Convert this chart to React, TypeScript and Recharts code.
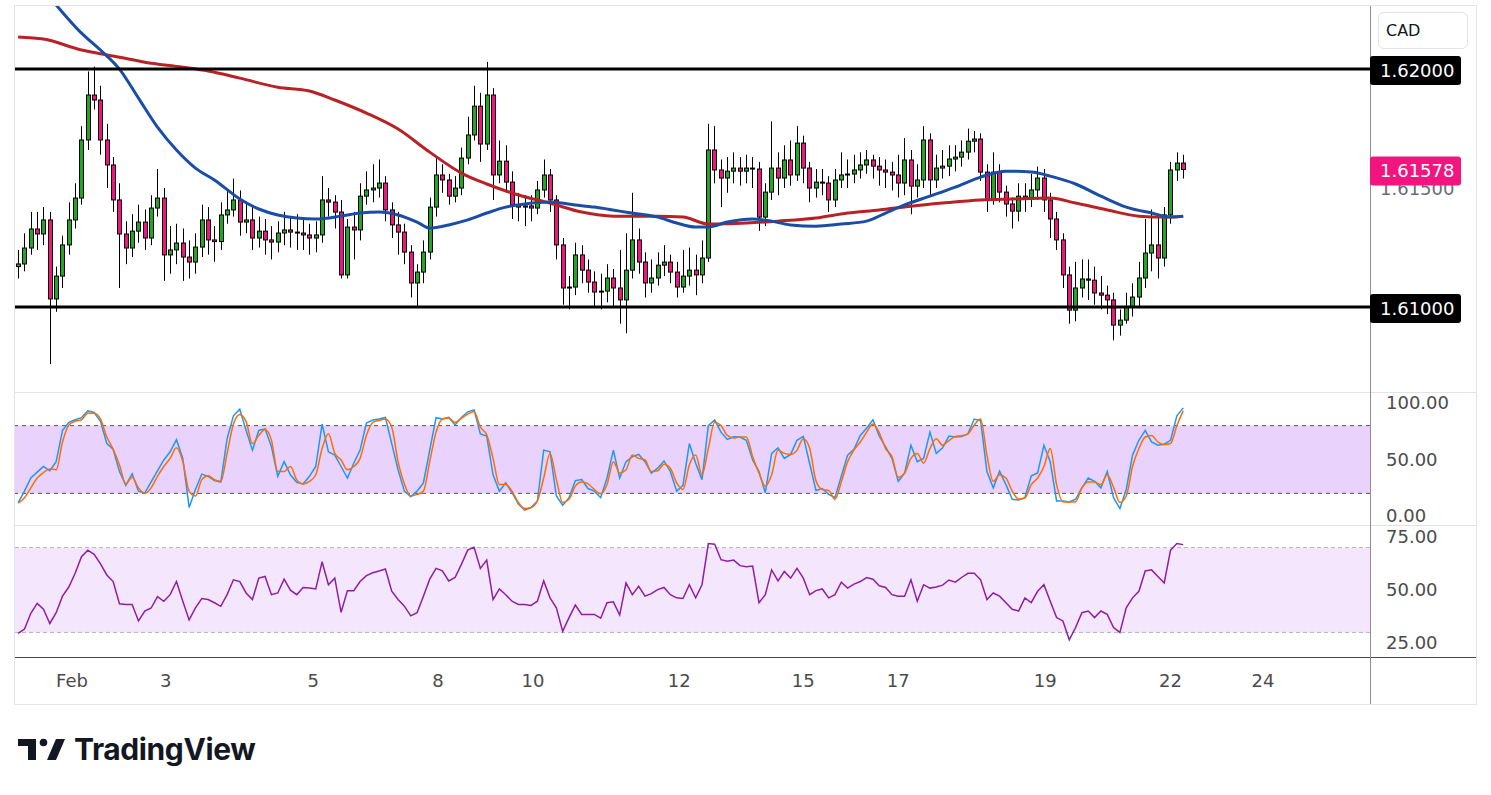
import {
  Bar,
  ComposedChart,
  Line,
  ReferenceArea,
  ReferenceLine,
  XAxis,
  YAxis,
} from "recharts";

// CAD pair, 2-hour candles, Feb 1 - Feb 22
const firstOpen = 1.6117;

const closes = [
  1.61181, 1.61248, 1.61328, 1.61307, 1.61366, 1.61034, 1.6113, 1.61261, 1.61366, 1.61458,
  1.61702, 1.61891, 1.6187, 1.61702, 1.61597, 1.6145, 1.61307, 1.61248, 1.61319, 1.61357,
  1.6129, 1.61416, 1.61458, 1.61219, 1.6124, 1.61269, 1.6121, 1.61189, 1.61252, 1.61366,
  1.61282, 1.61275, 1.61387, 1.61408, 1.6145, 1.61357, 1.61366, 1.6129, 1.61319, 1.61282,
  1.61273, 1.61311, 1.61324, 1.61315, 1.61311, 1.61303, 1.6129, 1.61303, 1.6145, 1.61441,
  1.61399, 1.61135, 1.61336, 1.61324, 1.61466, 1.61492, 1.615, 1.61521, 1.61408, 1.61345,
  1.61315, 1.61231, 1.61101, 1.61147, 1.61231, 1.6142, 1.61555, 1.61534, 1.61466, 1.615,
  1.61626, 1.61723, 1.61844, 1.61685, 1.61891, 1.61555, 1.61613, 1.61525, 1.61429, 1.6142,
  1.61425, 1.61416, 1.61492, 1.61555, 1.6145, 1.61261, 1.6108, 1.61084, 1.61219, 1.61155,
  1.61105, 1.61063, 1.61067, 1.61122, 1.6108, 1.6103, 1.61155, 1.61282, 1.61189, 1.61101,
  1.61122, 1.61176, 1.61189, 1.61147, 1.61084, 1.6113, 1.61155, 1.61135, 1.61206, 1.6166,
  1.61576, 1.61542, 1.61571, 1.61584, 1.61571, 1.61584, 1.6158, 1.61378, 1.61483, 1.61584,
  1.61542, 1.61618, 1.61555, 1.61689, 1.61584, 1.615, 1.61525, 1.61521, 1.6145, 1.61534,
  1.61555, 1.61559, 1.61576, 1.61597, 1.61618, 1.61592, 1.61576, 1.61567, 1.61555, 1.61521,
  1.61618, 1.61508, 1.61534, 1.61702, 1.61534, 1.61584, 1.61592, 1.61622, 1.6163, 1.61651,
  1.61697, 1.61706, 1.61567, 1.6145, 1.61567, 1.61483, 1.61433, 1.61403, 1.61466, 1.61458,
  1.61492, 1.61542, 1.6145, 1.6137, 1.61282, 1.61135, 1.60987, 1.6108, 1.61118, 1.61113,
  1.61059, 1.6105, 1.6103, 1.60924, 1.60945, 1.61, 1.61042, 1.61122, 1.61227, 1.61261,
  1.61206, 1.61387, 1.61576, 1.61605, 1.61578,
];

const highs = [
  1.6124, 1.6131, 1.614, 1.614, 1.6142, 1.614, 1.6117, 1.613, 1.6144, 1.6152,
  1.6176, 1.6199, 1.6201, 1.6193, 1.6177, 1.6163, 1.6152, 1.6136, 1.6139, 1.6143,
  1.6141, 1.6147, 1.6158, 1.615, 1.6134, 1.6135, 1.6133, 1.6128, 1.6131, 1.6143,
  1.6142, 1.6134, 1.6144, 1.6149, 1.6154, 1.6149, 1.6144, 1.6142, 1.6138, 1.6137,
  1.6134, 1.6136, 1.614, 1.6138, 1.6139, 1.6137, 1.6135, 1.6136, 1.6155, 1.615,
  1.6147, 1.6145, 1.6137, 1.614, 1.6152, 1.6157, 1.616, 1.6162, 1.6155, 1.6144,
  1.614, 1.6135, 1.6126, 1.6118, 1.6128, 1.6146, 1.6163, 1.616, 1.6156, 1.6155,
  1.6167, 1.618, 1.6193, 1.619, 1.6203, 1.6192, 1.617, 1.6168, 1.6157, 1.6148,
  1.6147, 1.6147, 1.6153, 1.6162, 1.6158, 1.6147, 1.6129, 1.6113, 1.6127, 1.6126,
  1.612, 1.6115, 1.6114, 1.6118, 1.6116, 1.6124, 1.6131, 1.6148, 1.6133, 1.6123,
  1.612, 1.6123, 1.6126, 1.6122, 1.6119, 1.6124, 1.6125, 1.6122, 1.6128, 1.6177,
  1.6176, 1.6162, 1.6163, 1.6165, 1.6163, 1.6164, 1.6163, 1.6161, 1.6152, 1.6178,
  1.6165, 1.6168, 1.617, 1.6176, 1.6172, 1.6161, 1.6158, 1.6158, 1.6155, 1.6158,
  1.6165, 1.6162, 1.6164, 1.6165, 1.6166, 1.6164, 1.6163, 1.6162, 1.6161, 1.6164,
  1.6171, 1.6166, 1.616, 1.6176, 1.6173, 1.6164, 1.6166, 1.6168, 1.6168, 1.617,
  1.6175, 1.6174, 1.6173, 1.616, 1.6165, 1.616, 1.6151, 1.6146, 1.6152, 1.6152,
  1.6156, 1.6159, 1.6158, 1.6148, 1.614, 1.6131, 1.6117, 1.6119, 1.612, 1.612,
  1.6117, 1.6113, 1.6109, 1.6106, 1.6099, 1.6106, 1.611, 1.6119, 1.6137, 1.6141,
  1.6139, 1.6142, 1.6161, 1.6165, 1.6164,
];

const lows = [
  1.6112, 1.6115, 1.6122, 1.6124, 1.6126, 1.6076, 1.6098, 1.6108, 1.6122, 1.6133,
  1.6143, 1.6166, 1.6183, 1.6164, 1.615, 1.614, 1.6108, 1.6118, 1.6121, 1.6127,
  1.6124, 1.6126, 1.6138, 1.6111, 1.6114, 1.6118, 1.6111, 1.6112, 1.6114, 1.6121,
  1.6122, 1.6119, 1.6124, 1.6135, 1.6138, 1.613, 1.6131, 1.6124, 1.6125, 1.6122,
  1.612, 1.6123, 1.6126, 1.6125, 1.6124, 1.6124, 1.6122, 1.6123, 1.6127, 1.6138,
  1.6133, 1.6112, 1.6112, 1.612, 1.6128, 1.6143, 1.6144, 1.6146, 1.6136, 1.6129,
  1.6122, 1.6118, 1.6104, 1.61, 1.611, 1.612, 1.6138, 1.6148, 1.6143, 1.6144,
  1.6147, 1.616, 1.617, 1.6161, 1.6166, 1.6145, 1.6152, 1.6148, 1.6137, 1.6136,
  1.6134, 1.6136, 1.6139, 1.6146, 1.614, 1.612, 1.6101, 1.6099, 1.6105, 1.611,
  1.6106, 1.61, 1.6099, 1.6102, 1.61, 1.6093, 1.6089, 1.6112, 1.6114, 1.6104,
  1.6106, 1.6109, 1.6113, 1.611, 1.6104, 1.6106, 1.6109, 1.6105, 1.611, 1.6119,
  1.6152, 1.6142, 1.6148, 1.6152, 1.6151, 1.6152, 1.615, 1.6132, 1.6134, 1.6145,
  1.6147, 1.615, 1.6151, 1.6153, 1.6152, 1.6144, 1.6146, 1.6147, 1.614, 1.6142,
  1.615, 1.615, 1.6152, 1.6154, 1.6156, 1.6154, 1.6151, 1.615, 1.6149, 1.6146,
  1.6147, 1.6139, 1.6146, 1.615, 1.6147, 1.615, 1.6154, 1.6155, 1.6157, 1.6159,
  1.6162, 1.6165, 1.6153, 1.614, 1.6143, 1.6144, 1.6138, 1.6133, 1.6136, 1.614,
  1.6142, 1.6145, 1.614, 1.6129, 1.6124, 1.6108, 1.6093, 1.6094, 1.6104, 1.6103,
  1.6101, 1.6099, 1.6097, 1.6086, 1.6088, 1.6093, 1.6096, 1.61, 1.6108, 1.6115,
  1.6112, 1.6117, 1.6135, 1.6153, 1.6154,
];

// moving averages, read as [bar, price] points
const fastAverage = [
  [0, 1.62458], [6, 1.62269], [10, 1.62151], [13, 1.6208], [16, 1.62], [19, 1.61878],
  [22, 1.61756], [25, 1.6166], [28, 1.61584], [31, 1.61534], [35, 1.61454], [38, 1.61412],
  [41, 1.61387], [44, 1.61374], [47, 1.6137], [51, 1.61382], [54, 1.61395], [57, 1.61399],
  [60, 1.61387], [63, 1.61357], [65, 1.61332], [68, 1.61345], [71, 1.61366], [74, 1.61395],
  [77, 1.6142], [80, 1.61433], [84, 1.61441], [88, 1.61429], [91, 1.6142], [95, 1.61403],
  [98, 1.61391], [101, 1.61378], [104, 1.61353], [107, 1.61336], [109, 1.61336], [112, 1.61357],
  [116, 1.6137], [119, 1.61361], [122, 1.61345], [126, 1.6134], [130, 1.61349], [134, 1.61361],
  [137, 1.61395], [140, 1.61429], [144, 1.61466], [148, 1.61504], [152, 1.61546], [156, 1.61571],
  [160, 1.61567], [163, 1.6155], [167, 1.61517], [171, 1.61466], [175, 1.6142], [179, 1.61395],
  [182, 1.61378], [184, 1.61382],
];

const slowAverage = [
  [0, 1.62135], [4, 1.62126], [10, 1.6208], [15, 1.62055], [20, 1.62029], [26, 1.62008],
  [30, 1.61992], [35, 1.61962], [41, 1.61924], [46, 1.61908], [50, 1.6187], [55, 1.61815],
  [60, 1.61748], [65, 1.61651], [70, 1.61563], [74, 1.61517], [79, 1.61471], [84, 1.61437],
  [89, 1.61399], [94, 1.61382], [101, 1.61382], [105, 1.61378], [109, 1.61349], [115, 1.61353],
  [120, 1.61361], [126, 1.61374], [131, 1.61395], [136, 1.61408], [141, 1.61424], [146, 1.61437],
  [152, 1.6145], [157, 1.61454], [163, 1.61458], [167, 1.61437], [172, 1.61408], [177, 1.61382],
  [181, 1.61378], [184, 1.61382],
];

const stochK = [
  11.9, 22.0, 33.6, 38.8, 43.8, 40.0, 48.1, 75.7, 82.9, 85.2,
  87.0, 93.0, 91.6, 83.8, 64.1, 59.1, 39.4, 27.2, 37.4, 22.0,
  20.3, 30.1, 40.0, 49.6, 56.8, 67.5, 51.0, 7.5, 23.5, 37.1,
  35.1, 31.3, 30.1, 68.4, 88.7, 94.5, 75.7, 58.3, 75.7, 77.1,
  61.2, 35.1, 48.1, 36.5, 29.9, 28.4, 35.1, 43.8, 81.4, 56.8,
  53.9, 43.8, 33.6, 46.7, 58.3, 82.3, 84.9, 85.8, 87.2, 64.1,
  40.9, 22.0, 17.1, 22.0, 29.3, 58.3, 87.0, 85.8, 87.2, 80.6,
  87.2, 92.2, 93.9, 72.7, 70.7, 36.5, 22.0, 29.3, 20.6, 10.5,
  5.2, 7.5, 13.3, 58.3, 56.8, 17.7, 9.6, 16.2, 31.3, 32.2,
  24.3, 22.0, 16.2, 33.6, 58.3, 33.6, 48.1, 52.5, 54.5, 48.1,
  38.0, 42.3, 48.7, 39.4, 22.0, 27.2, 64.1, 46.7, 32.2, 80.0,
  84.9, 74.2, 67.8, 70.1, 69.9, 67.0, 49.6, 39.4, 20.6, 55.4,
  60.3, 51.0, 54.5, 67.0, 70.5, 46.5, 22.6, 24.3, 19.1, 16.2,
  35.1, 53.9, 59.1, 71.3, 77.7, 85.2, 70.7, 61.2, 51.0, 30.7,
  38.0, 62.6, 48.1, 51.0, 74.2, 55.4, 60.3, 70.7, 69.9, 70.4,
  72.7, 85.8, 84.3, 39.4, 24.9, 39.7, 27.8, 14.8, 14.2, 16.2,
  35.6, 38.0, 62.6, 48.1, 13.3, 13.3, 12.5, 14.8, 24.9, 33.6,
  30.7, 24.9, 39.4, 16.2, 6.6, 23.5, 53.9, 67.0, 75.7, 65.5,
  62.6, 63.5, 67.0, 88.7, 95.7,
];

const stochD = [
  11.4, 16.2, 24.9, 33.6, 38.5, 41.7, 40.9, 65.5, 80.6, 83.8,
  85.2, 91.0, 91.0, 85.8, 69.9, 59.1, 45.2, 28.4, 34.2, 24.9,
  20.0, 24.9, 35.1, 43.8, 51.0, 60.3, 48.1, 22.0, 17.7, 32.2,
  35.6, 32.2, 30.7, 55.4, 81.4, 89.9, 83.5, 64.1, 71.3, 76.5,
  67.0, 39.4, 39.4, 43.8, 32.2, 28.4, 30.7, 36.5, 59.7, 72.7,
  55.4, 49.6, 40.9, 43.8, 51.0, 71.3, 82.9, 84.6, 85.8, 78.6,
  48.1, 28.4, 17.7, 19.1, 22.0, 48.1, 74.2, 85.8, 86.7, 82.9,
  86.4, 90.1, 92.5, 78.6, 71.9, 51.0, 27.8, 27.8, 22.0, 11.9,
  6.6, 7.5, 13.3, 33.6, 55.4, 32.2, 11.9, 14.8, 26.4, 30.1,
  28.4, 23.5, 19.7, 27.8, 48.1, 38.0, 40.9, 53.9, 51.0, 49.6,
  39.4, 40.0, 45.8, 42.3, 29.3, 23.5, 45.2, 53.9, 36.5, 59.7,
  82.9, 80.0, 71.3, 69.0, 69.9, 69.9, 52.5, 38.0, 26.4, 36.5,
  58.3, 55.4, 54.5, 58.3, 68.4, 60.0, 31.3, 23.5, 22.6, 14.8,
  30.1, 48.1, 58.3, 65.5, 74.2, 81.4, 73.6, 59.7, 52.5, 34.2,
  38.0, 51.0, 55.4, 46.7, 59.7, 68.4, 62.6, 66.7, 70.4, 71.0,
  72.7, 80.6, 85.8, 53.9, 30.7, 36.5, 33.6, 22.0, 15.1, 16.0,
  27.8, 33.6, 43.8, 59.7, 27.8, 12.7, 12.5, 12.7, 24.9, 30.1,
  30.1, 27.8, 36.5, 25.5, 11.9, 17.7, 43.8, 59.7, 69.9, 71.3,
  65.5, 63.2, 64.1, 80.0, 93.0,
];

const rsiValues = [
  29.5, 31.6, 39.0, 43.7, 40.9, 34.2, 39.3, 47.1, 51.4, 57.9,
  65.7, 68.8, 66.8, 62.3, 57.1, 54.0, 43.5, 43.2, 43.2, 35.4,
  40.1, 41.5, 46.9, 44.7, 47.8, 54.0, 44.7, 35.9, 41.6, 46.0,
  45.5, 44.0, 42.3, 47.8, 54.8, 54.0, 48.6, 45.5, 55.6, 56.4,
  47.8, 48.6, 55.1, 49.9, 47.8, 51.2, 50.9, 50.5, 63.3, 52.5,
  55.6, 39.5, 49.7, 49.7, 54.0, 56.8, 58.1, 59.0, 59.9, 49.4,
  45.5, 42.4, 37.8, 39.3, 47.1, 55.1, 60.2, 59.0, 54.3, 55.9,
  62.1, 68.8, 70.2, 60.2, 64.1, 45.5, 50.5, 47.8, 44.7, 43.2,
  43.2, 42.7, 44.7, 54.3, 46.3, 41.6, 30.5, 37.0, 42.9, 38.5,
  38.5, 38.5, 36.7, 44.0, 44.4, 38.2, 53.3, 47.8, 51.7, 47.1,
  48.3, 50.2, 51.2, 47.8, 46.3, 46.0, 52.5, 46.3, 52.5, 71.9,
  71.6, 64.3, 63.6, 64.1, 61.5, 61.0, 61.3, 44.0, 47.8, 59.5,
  54.3, 58.7, 55.6, 60.2, 55.6, 47.8, 49.7, 50.5, 46.3, 47.8,
  53.7, 50.9, 52.8, 54.0, 55.9, 55.1, 52.0, 51.2, 47.8, 47.1,
  47.1, 54.8, 44.7, 52.5, 50.9, 51.4, 52.3, 54.7, 53.7, 55.9,
  57.9, 57.9, 54.8, 45.5, 48.6, 47.1, 44.0, 40.9, 40.1, 46.3,
  44.0, 49.4, 52.5, 44.7, 37.0, 35.4, 26.5, 32.3, 39.3, 40.1,
  37.0, 40.1, 38.5, 32.3, 30.0, 41.6, 46.3, 49.4, 59.0, 59.5,
  56.4, 53.3, 68.8, 71.9, 71.4,
];

const dayTicks = [8.5, 23.3, 46.6, 66.3, 81.3, 104.4, 124, 139, 162.2, 182, 196.6];
const dayLabels = ["Feb", "3", "5", "8", "10", "12", "15", "17", "19", "22", "24"];

const levels = [1.62, 1.61];
const lastPrice = 1.61578;
const priceTicks = [1.615, 1.62, 1.61, lastPrice];
const stochTicks = [0, 50, 100];
const rsiTicks = [25, 50, 75];

const GREEN = "#22a722";
const PINK = "#f2157f";
const TEXT = "#4b4b4b";
const FONT = "'DejaVu Sans', sans-serif";
const X_DOMAIN = [-0.5, 213.5];

const candles = closes.map((close, i) => ({
  i,
  open: i === 0 ? firstOpen : closes[i - 1],
  high: highs[i],
  low: lows[i],
  close,
}));

const fastData = fastAverage.map(([i, v]) => ({ i, v }));
const slowData = slowAverage.map(([i, v]) => ({ i, v }));

const oscData = stochK.map((k, i) => ({
  i,
  k,
  d: stochD[i],
  rsi: rsiValues[i],
}));

function Candle(props: any) {
  const { x, y, width, height, payload } = props;
  if (x == null || !payload) return null;
  const top = Math.min(y, y + height);
  const h = Math.abs(height);
  const { open, close, high, low } = payload;
  const k = h / (high - low);
  const bodyTop = top + (high - Math.max(open, close)) * k;
  const bodyBottom = top + (high - Math.min(open, close)) * k;
  const cx = Math.round(x + width / 2) + 0.5;
  return (
    <g>
      <line x1={cx} x2={cx} y1={top} y2={top + h} stroke="#000" strokeWidth={1} />
      <rect
        x={cx - 2}
        y={bodyTop}
        width={4}
        height={Math.max(bodyBottom - bodyTop, 1)}
        fill={close >= open ? GREEN : PINK}
        stroke="#000"
        strokeWidth={1}
      />
    </g>
  );
}

function PriceLabel(props: any) {
  const { x, y, payload } = props;
  const v = payload.value;
  const text = v.toFixed(5);
  if (v !== lastPrice && !levels.includes(v)) {
    return (
      <text x={x + 10} y={y} dy="0.36em" fontSize={18} fill="#6a6d78" fontFamily={FONT}>
        {text}
      </text>
    );
  }
  return (
    <g>
      <rect x={x} y={y - 13} width={91} height={29} rx={3} fill={v === lastPrice ? PINK : "#000"} />
      <text x={x + 10} y={y + 1.5} dy="0.36em" fontSize={18} fill="#fff" fontFamily={FONT}>
        {text}
      </text>
    </g>
  );
}

function ScaleLabel(props: any) {
  const { x, y, payload } = props;
  return (
    <text x={x + 16} y={y} dy="0.36em" fontSize={18} fill={TEXT} fontFamily={FONT}>
      {payload.value.toFixed(2)}
    </text>
  );
}

function DayLabel(props: any) {
  const { x, y, payload } = props;
  return (
    <text x={x} y={y + 24} dy="0.36em" textAnchor="middle" fontSize={18} fill={TEXT} fontFamily={FONT}>
      {dayLabels[dayTicks.indexOf(payload.value)]}
    </text>
  );
}

const box = (left: number, top: number, width: number, height: number, color: string) => (
  <div style={{ position: "absolute", left, top, width, height, background: color }} />
);

export default function App() {
  return (
    <div
      style={{
        position: "absolute",
        left: 0,
        top: 0,
        width: 1491,
        height: 795,
        background: "#fff",
        fontFamily: FONT,
        overflow: "hidden",
      }}
    >
      {/* frame */}
      <div
        style={{
          position: "absolute",
          left: 14,
          top: 5,
          width: 1463,
          height: 700,
          border: "1px solid #e3e5ea",
          boxSizing: "border-box",
        }}
      />
      {box(15, 392, 1461, 1, "#e0e3eb")}
      {box(15, 525, 1461, 1, "#e0e3eb")}
      {box(15, 657, 1461, 1, "#4a4a4a")}
      {box(1370, 6, 1, 698, "#8f8f8f")}

      {/* currency badge */}
      <div
        style={{
          position: "absolute",
          left: 1378,
          top: 12,
          width: 90,
          height: 37,
          border: "1px solid #e0e3eb",
          borderRadius: 6,
          boxSizing: "border-box",
          fontSize: 16,
          color: "#131722",
          lineHeight: "35px",
          paddingLeft: 7,
        }}
      >
        CAD
      </div>

      {/* price pane */}
      <div style={{ position: "absolute", left: 15, top: 6 }}>
        <ComposedChart
          width={1461}
          height={386}
          data={candles}
          margin={{ top: 0, right: 0, bottom: 0, left: 0 }}
        >
          <XAxis dataKey="i" type="number" domain={X_DOMAIN} allowDataOverflow hide />
          <YAxis
            orientation="right"
            width={106}
            domain={[1.60643, 1.62265]}
            allowDataOverflow
            ticks={priceTicks}
            interval={0}
            tick={<PriceLabel />}
            tickSize={0}
            tickMargin={0}
            axisLine={false}
            tickLine={false}
          />
          <Bar
            dataKey={(d: any) => [d.low, d.high]}
            barSize={4}
            shape={<Candle />}
            isAnimationActive={false}
          />
          <Line
            data={slowData}
            dataKey="v"
            type="monotone"
            stroke="#b82226"
            strokeWidth={3}
            dot={false}
            isAnimationActive={false}
          />
          <Line
            data={fastData}
            dataKey="v"
            type="monotone"
            stroke="#1a4da6"
            strokeWidth={3}
            dot={false}
            isAnimationActive={false}
          />
          {levels.map((lv) => (
            <ReferenceLine key={lv} y={lv} stroke="#000" strokeWidth={3} />
          ))}
        </ComposedChart>
      </div>

      {/* stochastic pane */}
      <div style={{ position: "absolute", left: 15, top: 392 }}>
        <ComposedChart
          width={1461}
          height={133}
          data={oscData}
          margin={{ top: 0, right: 0, bottom: 0, left: 0 }}
        >
          <XAxis dataKey="i" type="number" domain={X_DOMAIN} allowDataOverflow hide />
          <YAxis
            orientation="right"
            width={106}
            domain={[-7.96, 109.73]}
            allowDataOverflow
            ticks={stochTicks}
            interval={0}
            tick={<ScaleLabel />}
            tickSize={0}
            tickMargin={0}
            axisLine={false}
            tickLine={false}
          />
          <ReferenceArea y1={20} y2={80} fill="#e9d2fb" fillOpacity={1} strokeOpacity={0} />
          <ReferenceLine y={80} stroke="#555" strokeDasharray="4 4" />
          <ReferenceLine y={20} stroke="#555" strokeDasharray="4 4" />
          <Line
            dataKey="k"
            type="linear"
            stroke="#2196f3"
            strokeWidth={1.5}
            dot={false}
            isAnimationActive={false}
          />
          <Line
            dataKey="d"
            type="monotone"
            stroke="#ff6d00"
            strokeWidth={1.5}
            dot={false}
            isAnimationActive={false}
          />
        </ComposedChart>
      </div>

      {/* RSI pane with time scale */}
      <div style={{ position: "absolute", left: 15, top: 525 }}>
        <ComposedChart
          width={1461}
          height={179}
          data={oscData}
          margin={{ top: 0, right: 0, bottom: 0, left: 0 }}
        >
          <XAxis
            dataKey="i"
            type="number"
            domain={X_DOMAIN}
            allowDataOverflow
            ticks={dayTicks}
            interval={0}
            height={47}
            tick={<DayLabel />}
            tickSize={0}
            tickMargin={0}
            axisLine={false}
            tickLine={false}
          />
          <YAxis
            orientation="right"
            width={106}
            domain={[18.4, 80.66]}
            allowDataOverflow
            ticks={rsiTicks}
            interval={0}
            tick={<ScaleLabel />}
            tickSize={0}
            tickMargin={0}
            axisLine={false}
            tickLine={false}
          />
          <ReferenceArea y1={30} y2={70} fill="#f4e7fd" fillOpacity={1} strokeOpacity={0} />
          <ReferenceLine y={70} stroke="#b5b5b5" strokeDasharray="4 3" />
          <ReferenceLine y={30} stroke="#b5b5b5" strokeDasharray="4 3" />
          <Line
            dataKey="rsi"
            type="linear"
            stroke="#8e1fa3"
            strokeWidth={1.5}
            dot={false}
            isAnimationActive={false}
          />
        </ComposedChart>
      </div>

      {/* TradingView mark */}
      <svg style={{ position: "absolute", left: 0, top: 725 }} width={300} height={50}>
        <path d="M18 14 H36 V35 H28 V21 H18 Z" fill="#131722" />
        <circle cx={43.5} cy={17.5} r={3.8} fill="#131722" />
        <path d="M47 35 L56 14 H65 L56 35 Z" fill="#131722" />
        <text
          x={74}
          y={35}
          fontSize={30}
          fontWeight={700}
          fill="#131722"
          fontFamily="Inter, sans-serif"
          letterSpacing={-0.4}
        >
          TradingView
        </text>
      </svg>
    </div>
  );
}
